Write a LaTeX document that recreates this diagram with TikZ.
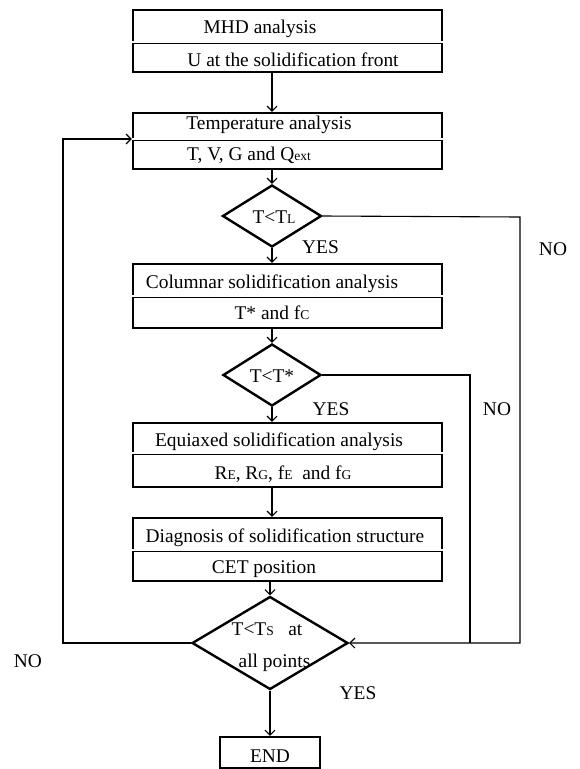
\documentclass[tikz,border=0pt]{standalone}
\usepackage{fontspec}
\setmainfont{Liberation Serif}
\usetikzlibrary{arrows.meta,shapes.geometric}
\newcommand{\smsub}[1]{{\fontsize{13.5}{14}\selectfont #1}}
\begin{document}
\begin{tikzpicture}[x=1pt,y=-1pt,
  box/.style={draw, line width=2.4pt, minimum width=309pt, inner sep=0pt},
  dia/.style={draw, diamond, line width=2.4pt, inner sep=0pt},
  divider/.style={double, double distance=1.6pt, line width=0.7pt},
  txt/.style={anchor=base, inner sep=0pt, font=\fontsize{19.4}{22}\selectfont},
  conn/.style={line width=1.1pt},
  arr/.style={conn, -{Straight Barb[length=5pt,width=10pt,line width=1.1pt]}}]
\useasboundingbox (0,0) rectangle (580,769);
% boxes
\node[box, minimum height=62pt] (b1) at (287.5,41) {};
\node[box, minimum height=56pt] (b2) at (287.5,141) {};
\node[box, minimum height=64pt] (b3) at (287.5,296) {};
\node[box, minimum height=64pt] (b4) at (287.5,455) {};
\node[box, minimum height=63pt] (b5) at (287.5,549.5) {};
\node[draw, line width=2.4pt, minimum width=100pt, minimum height=31pt, inner sep=0pt] (end) at (270,752.5) {};
% diamonds
\node[dia, minimum width=99pt, minimum height=62pt] (d1) at (272,216) {};
\node[dia, minimum width=98pt, minimum height=62pt] (d2) at (272,375) {};
\node[dia, minimum width=156pt, minimum height=93pt] (d3) at (270,643) {};
% dividers
\draw[divider] (b1.west |- 0,42) -- (b1.east |- 0,42);
\draw[divider] (b2.west |- 0,139) -- (b2.east |- 0,139);
\draw[divider] (b3.west |- 0,296) -- (b3.east |- 0,296);
\draw[divider] (b4.west |- 0,453) -- (b4.east |- 0,453);
\draw[divider] (b5.west |- 0,550) -- (b5.east |- 0,550);
% texts
\node[txt] (t1a) at (260,33.5) {MHD analysis};
\node[txt] (t1b) at (293,66) {U at the solidification front};
\node[txt] (t2a) at (269,129) {Temperature analysis};
\node[txt] (t2b) at (249,160) {T, V, G and Q\smsub{ext}};
\node[txt] (td1) at (274,223) {T<T\smsub{L}};
\node[txt] (t3a) at (272,288) {Columnar solidification analysis};
\node[txt] (t3b) at (272,319) {T* and f\smsub{C}};
\node[txt] (td2) at (272,382) {T<T*};
\node[txt] (t4a) at (279,446) {Equiaxed solidification analysis};
\node[txt] (t4b) at (283,479) {R\smsub{E}, R\smsub{G}, f\smsub{E}\ \ and f\smsub{G}};
\node[txt] (t5a) at (285,542) {Diagnosis\ of\ solidification\ structure};
\node[txt] (t5b) at (264,573) {CET position};
\node[txt] (td3a) at (267,635) {T<T\smsub{S}\ \ \ at};
\node[txt] (td3b) at (274.5,667) {all points};
\node[txt] (tend) at (270,762) {END};
\node[txt] (yes1) at (320.5,253) {YES};
\node[txt] (no1) at (553,255) {NO};
\node[txt] (yes2) at (331,415) {YES};
\node[txt] (no2) at (497,415) {NO};
\node[txt] (yes3) at (358,699) {YES};
\node[txt] (no3) at (28,667) {NO};
% connectors
\coordinate (c1) at (520,217);
\coordinate (c2) at (520,643);
\coordinate (c3) at (470,375);
\coordinate (c4) at (470,643);
\coordinate (c5) at (63,643);
\coordinate (c6) at (63,139);
\draw[arr] (b1.south -| d1.north) -- (b2.north -| d1.north);
\draw[arr] (b2.south -| d1.north) -- (d1.north);
\draw[arr] (d1.south) -- (b3.north -| d1.south);
\draw[arr] (b3.south -| d2.north) -- (d2.north);
\draw[arr] (d2.south) -- (b4.north -| d2.south);
\draw[arr] (b4.south -| d2.south) -- (b5.north -| d2.south);
\draw[arr] (b5.south -| d3.north) -- (d3.north);
\draw[arr] (d3.south) -- (end.north);
\draw[arr] (d1.east) -- (c1) -- (c2) -- (d3.east);
\draw[conn] (d2.east) -- (c3) -- (c4);
\draw[arr] (d3.west) -- (c5) -- (c6) -- (b2.west |- c6);
\end{tikzpicture}
\end{document}
